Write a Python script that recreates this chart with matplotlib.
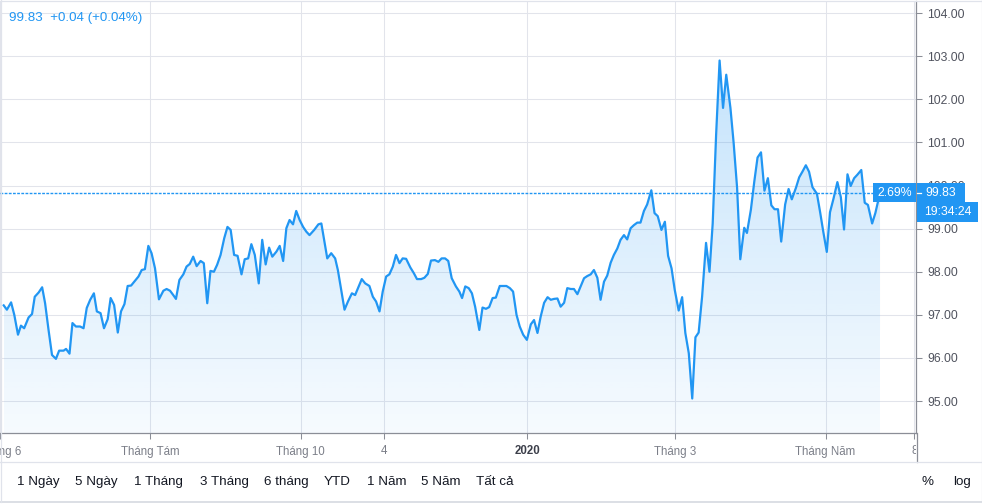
import numpy as np
import matplotlib
matplotlib.use('Agg')
import matplotlib.pyplot as plt
from matplotlib.colors import to_rgb
from matplotlib.lines import Line2D
from matplotlib.patches import Rectangle
from matplotlib.transforms import Bbox, TransformedBbox

plt.rcParams['font.family'] = ['Liberation Sans', 'DejaVu Sans']

# days counted from 2019-06-01
days = [1.5, 2.8, 4.5, 5.8, 7.3, 8.5, 9.8, 11.6, 13.0, 14.1, 15.7, 17.1, 18.3, 19.7,
        21.1, 22.7, 24.0, 25.8, 26.8, 28.2, 29.4, 30.8, 32.5, 33.9, 35.2, 36.6, 38.1,
        39.3, 40.8, 42.2, 43.7, 44.9, 46.3, 47.8, 49.1, 50.5, 51.8, 53.2, 54.5, 56.2,
        57.5, 58.8, 60.2, 61.5, 62.9, 64.5, 66.3, 67.6, 69.0, 70.3, 71.4, 72.8, 74.4,
        75.7, 77.0, 78.4, 79.8, 81.4, 82.7, 84.1, 85.4, 86.8, 88.1, 89.5, 91.0, 92.3,
        93.6, 95.0, 96.4, 98.0, 99.3, 100.7, 102.0, 103.4, 105.0, 106.4, 107.8, 109.2,
        110.5, 112.2, 113.5, 114.9, 116.2, 117.5, 118.9, 120.2, 121.6, 123.0, 124.3,
        125.6, 127.5, 129.2, 130.4, 132.8, 134.4, 136.0, 137.1, 139.8, 141.2, 142.8,
        144.1, 146.8, 148.2, 149.9, 151.3, 152.6, 154.0, 155.3, 156.7, 158.0, 159.4,
        160.7, 162.1, 163.4, 164.8, 166.5, 167.9, 169.2, 170.9, 172.2, 173.6, 174.9,
        176.5, 177.9, 179.2, 180.6, 181.9, 183.3, 185.0, 186.4, 187.5, 188.8, 190.2,
        191.5, 192.8, 194.5, 195.8, 197.2, 198.5, 199.9, 201.2, 202.8, 204.2, 205.5,
        206.9, 208.2, 209.6, 210.9, 212.3, 213.8, 215.4, 216.7, 218.1, 219.4, 220.8,
        222.2, 223.5, 224.8, 226.2, 227.5, 228.9, 230.2, 231.6, 232.9, 234.3, 235.6,
        237.0, 238.3, 239.7, 241.0, 242.4, 243.7, 245.1, 246.4, 247.8, 249.1, 250.5,
        251.8, 253.2, 254.5, 255.9, 257.2, 258.6, 259.9, 261.3, 262.6, 264.3, 265.6,
        266.9, 268.4, 269.8, 271.1, 272.5, 273.8, 275.4, 276.8, 278.1, 279.5, 280.9,
        282.2, 283.5, 284.9, 286.5, 287.9, 289.2, 290.6, 292.0, 293.4, 294.7, 296.4,
        297.7, 299.1, 300.4, 302.0, 303.1, 304.7, 306.1, 307.4, 308.8, 310.2, 311.6,
        313.0, 314.3, 315.7, 317.0, 318.6, 320.0, 321.3, 323.0, 324.3, 325.6, 327.0,
        328.3, 329.7, 331.5, 332.8, 334.1, 335.5, 336.8, 338.2, 339.8, 341.2, 342.5,
        343.9, 345.2, 346.6, 347.9, 349.5, 350.9, 352.2, 353.9, 355.2, 357.1]

prices = [97.22, 97.12, 97.29, 97.00, 96.54, 96.75, 96.69, 96.94, 97.02, 97.42, 97.52,
          97.64, 97.27, 96.65, 96.07, 95.98, 96.17, 96.17, 96.21, 96.10, 96.81, 96.73,
          96.73, 96.69, 97.16, 97.35, 97.50, 97.08, 97.04, 96.69, 96.90, 97.39, 97.23,
          96.59, 97.08, 97.25, 97.67, 97.68, 97.77, 97.89, 98.04, 98.06, 98.60, 98.43,
          98.08, 97.36, 97.56, 97.60, 97.56, 97.46, 97.37, 97.81, 97.94, 98.12, 98.18,
          98.35, 98.13, 98.25, 98.20, 97.27, 98.02, 98.00, 98.16, 98.39, 98.78, 99.04,
          98.97, 98.39, 98.37, 97.94, 98.29, 98.31, 98.64, 98.39, 97.73, 98.74, 98.17,
          98.56, 98.35, 98.47, 98.60, 98.25, 99.01, 99.20, 99.10, 99.41, 99.20, 99.04,
          98.93, 98.85, 98.97, 99.10, 99.12, 98.31, 98.43, 98.31, 98.04, 97.12, 97.31,
          97.50, 97.46, 97.83, 97.73, 97.67, 97.42, 97.31, 97.08, 97.54, 97.89, 97.94,
          98.12, 98.39, 98.20, 98.31, 98.30, 98.10, 97.97, 97.83, 97.83, 97.86, 97.95,
          98.26, 98.27, 98.23, 98.31, 98.31, 98.25, 97.85, 97.66, 97.54, 97.39, 97.66,
          97.62, 97.50, 97.19, 96.65, 97.17, 97.14, 97.18, 97.39, 97.40, 97.67, 97.67,
          97.67, 97.62, 97.54, 97.00, 96.73, 96.54, 96.42, 96.78, 96.88, 96.58, 96.96,
          97.28, 97.41, 97.35, 97.37, 97.38, 97.19, 97.28, 97.62, 97.60, 97.60, 97.48,
          97.66, 97.85, 97.90, 97.94, 98.04, 97.86, 97.35, 97.77, 97.91, 98.21, 98.39,
          98.54, 98.74, 98.85, 98.75, 99.01, 99.08, 99.14, 99.14, 99.41, 99.56, 99.89,
          99.36, 99.29, 98.97, 99.16, 98.37, 98.08, 97.58, 97.10, 97.41, 96.58, 96.11,
          95.06, 96.48, 96.59, 97.42, 98.67, 98.00, 99.12, 101.19, 102.90, 101.80,
          102.57, 101.80, 100.99, 99.95, 98.29, 99.02, 98.90, 99.44, 100.10, 100.65,
          100.77, 99.88, 100.17, 99.54, 99.45, 99.45, 98.70, 99.56, 99.92, 99.68, 99.95,
          100.19, 100.32, 100.47, 100.32, 99.96, 99.81, 99.38, 98.92, 98.46, 99.38,
          99.69, 100.08, 99.73, 98.98, 100.26, 99.99, 100.17, 100.25, 100.36, 99.60,
          99.55, 99.12, 99.36, 99.83]

last_price = 99.83
header_text = '99.83  +0.04 (+0.04%)'
pct_text = '2.69%'
time_text = '19:34:24'

tick_days = [0, 61, 122, 156, 214, 274, 335, 371]
tick_labels = ['Tháng 6', 'Tháng Tám', 'Tháng 10', '4', '2020', 'Tháng 3', 'Tháng Năm', '8']
price_ticks = [95, 96, 97, 98, 99, 100, 101, 102, 103, 104]

ranges = ['1 Ngày', '5 Ngày', '1 Tháng', '3 Tháng', '6 tháng', 'YTD', '1 Năm', '5 Năm', 'Tất cả']
range_x = [17, 75, 134, 200, 264, 324, 367, 421, 476]

blue = '#2196f3'
axis_gray = '#8b8e97'
grid_gray = '#e2e4eb'

W, H = 982, 504


def fx(px):
    return px / W


def fy(py):
    return 1 - py / H


fig = plt.figure(figsize=(W / 100, H / 100), dpi=100)
ax = fig.add_axes([0, fy(433), fx(916), fy(1) - fy(433)])

y_lo, y_hi = 94.26, 104.28

# gradient area under the line
area = ax.fill_between(days, prices, y_lo, facecolor='none', edgecolor='none')
grad = np.zeros((256, 1, 4))
grad[:, 0, :3] = to_rgb(blue)
grad[:, 0, 3] = np.linspace(0.30, 0.04, 256)
img = ax.imshow(grad, extent=[days[0], days[-1], y_lo, y_hi], aspect='auto',
                origin='upper', zorder=1, interpolation='bilinear')
img.set_clip_path(area.get_paths()[0], transform=ax.transData)

ax.plot(days, prices, color=blue, lw=1.6, zorder=3, solid_joinstyle='round')
ax.axhline(last_price, color=blue, lw=1.0, ls=(0, (2, 1)), zorder=2)

ax.set_xlim(0, 371.7)
ax.set_ylim(y_lo, y_hi)

ax.set_xticks(tick_days, tick_labels)
ax.set_yticks(price_ticks, [f'{p:.2f}' for p in price_ticks])
ax.yaxis.tick_right()
ax.grid(True, color=grid_gray, lw=0.75, zorder=0)
ax.set_axisbelow(True)

for side in ['top', 'left']:
    ax.spines[side].set_visible(False)
for side in ['right', 'bottom']:
    ax.spines[side].set_color(axis_gray)
    ax.spines[side].set_linewidth(0.9)

ax.tick_params(axis='y', length=4, width=0.75, color=axis_gray, pad=4,
               labelsize=8.8, labelcolor='#50535e')
ax.tick_params(axis='x', length=4, width=0.75, color=axis_gray, pad=5,
               labelsize=8.3, labelcolor='#7b7e88')

clip = TransformedBbox(Bbox([[0, 0], [fx(916), 1]]), fig.transFigure)
for lab in ax.get_xticklabels():
    lab.set_clip_box(clip)
    lab.set_clip_on(True)
    if lab.get_text() == '2020':
        lab.set_fontweight('bold')
        lab.set_color('#3c3f4a')

# axis line continues through the time-label row
fig.add_artist(Line2D([fx(916.5), fx(916.5)], [fy(433), fy(462)], color=axis_gray, lw=0.9))
# toolbar separator and outer frame
fig.add_artist(Line2D([0, 1], [fy(462), fy(462)], color='#e0e3eb', lw=0.9))
fig.add_artist(Line2D([0, 1], [fy(502), fy(502)], color='#d6d9e0', lw=1.2))
fig.add_artist(Line2D([fx(0.5), fx(0.5)], [fy(0), fy(502)], color='#e0e3eb', lw=0.9))
fig.add_artist(Line2D([fx(981.5), fx(981.5)], [fy(0), fy(502)], color='#e0e3eb', lw=0.9))
fig.add_artist(Line2D([0, 1], [fy(0.5), fy(0.5)], color='#e0e3eb', lw=0.9))

# header
fig.text(fx(9), fy(18), header_text, color=blue, fontsize=9.6, va='center', ha='left')

# last price labels
fig.add_artist(Rectangle((fx(873), fy(202)), fx(916) - fx(873), (202 - 183) / H,
                         facecolor=blue, edgecolor='none'))
fig.text(fx(894.5), fy(192.5), pct_text, color='white', fontsize=8.8, ha='center', va='center')
fig.add_artist(Rectangle((fx(917), fy(202)), fx(965) - fx(917), (202 - 183) / H,
                         facecolor=blue, edgecolor='none'))
fig.add_artist(Line2D([fx(917), fx(921)], [fy(192.5), fy(192.5)], color='white', lw=0.9))
fig.text(fx(925), fy(192.5), f'{last_price:.2f}', color='white', fontsize=8.8,
         ha='left', va='center')
fig.add_artist(Rectangle((fx(917), fy(222)), fx(978) - fx(917), (222 - 202) / H,
                         facecolor=blue, edgecolor='none'))
fig.text(fx(947.5), fy(212), time_text, color='white', fontsize=8.8, ha='center', va='center')

# range toolbar
for name, px in zip(ranges, range_x):
    fig.text(fx(px), fy(482), name, color='#131722', fontsize=9.6, ha='left', va='center')
fig.text(fx(922), fy(482), '%', color='#131722', fontsize=9.6, ha='left', va='center')
fig.text(fx(953), fy(482), 'log', color='#131722', fontsize=9.6, ha='left', va='center')

fig.savefig('out.png', dpi=100)
